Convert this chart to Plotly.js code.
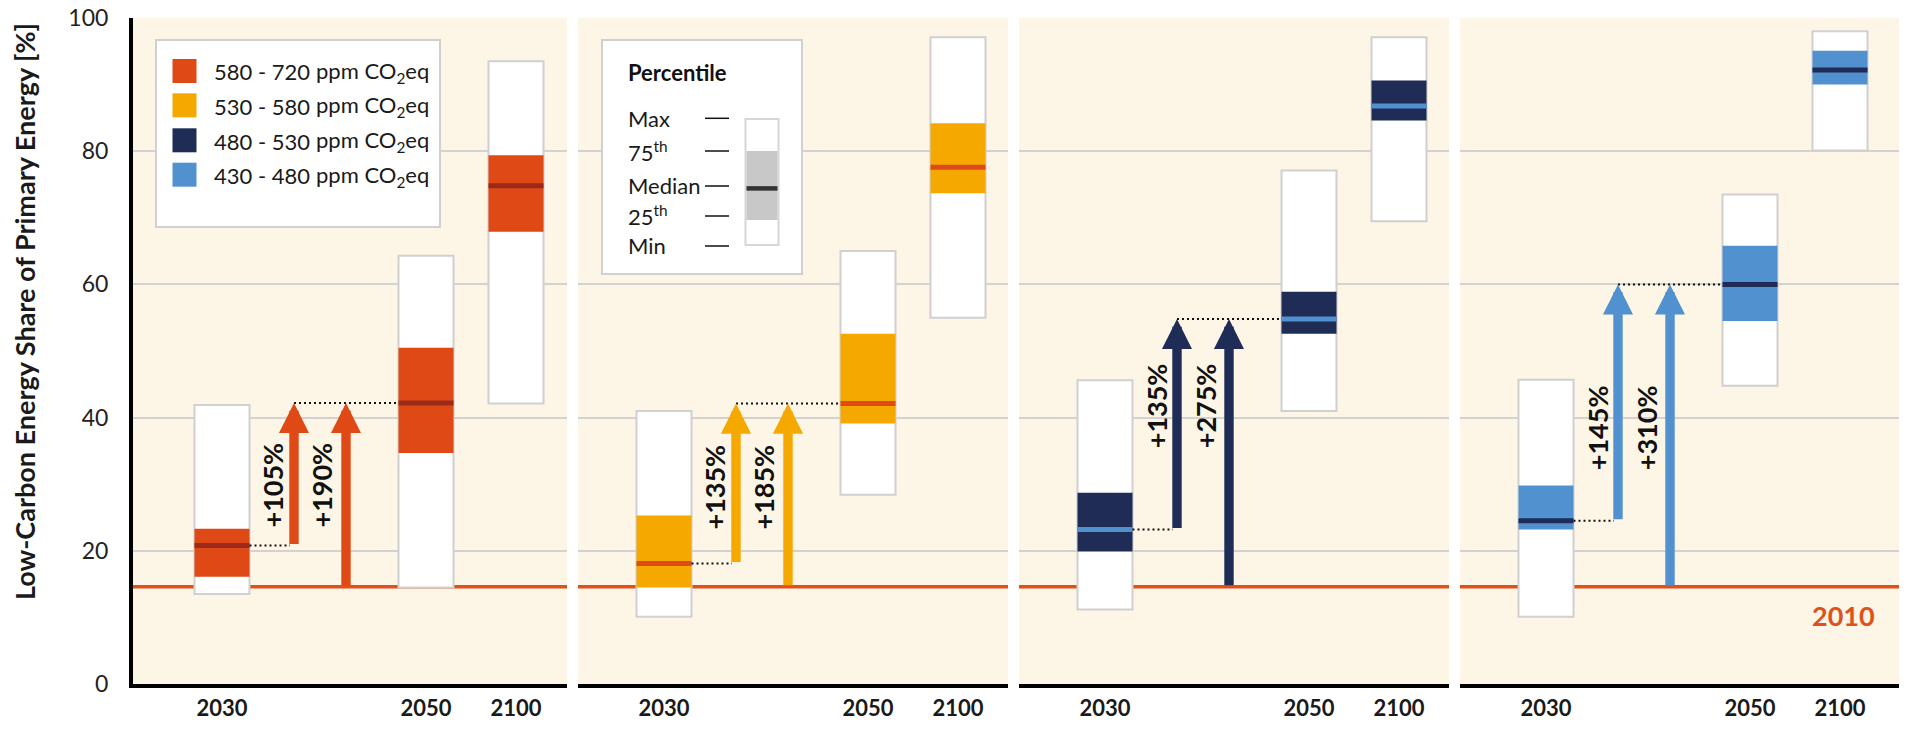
<!DOCTYPE html>
<html><head><meta charset="utf-8">
<script src="https://cdn.plot.ly/plotly-3.0.1.min.js"></script>
<style>html,body{margin:0;padding:0;background:#fff;}#chart{width:1915px;height:733px;}</style>
</head><body><div id="chart"></div>
<script>
// ---------------- data ----------------
const years = ['2030', '2050', '2100'];
const concentrationBands = ['580 - 720', '530 - 580', '480 - 530', '430 - 480'];
const share2010 = 14.6;
const minVals    = [[13.5, 14.5, 42.1], [10.1, 28.4, 55.0], [11.2, 41.0, 69.5], [10.1, 44.8, 80.1]];
const p25Vals    = [[16.1, 34.7, 67.9], [14.5, 39.1, 73.7], [19.9, 52.6, 84.6], [23.2, 54.5, 90.0]];
const medianVals = [[20.8, 42.2, 74.8], [18.1, 42.1, 77.6], [23.2, 54.8, 86.8], [24.5, 60.0, 92.2]];
const p75Vals    = [[23.3, 50.5, 79.4], [25.3, 52.6, 84.2], [28.7, 58.9, 90.6], [29.8, 65.8, 95.1]];
const maxVals    = [[41.9, 64.3, 93.5], [41.0, 65.0, 97.1], [45.6, 77.1, 97.1], [45.7, 73.5, 98.0]];
const increaseFrom2030 = ['+105%', '+135%', '+135%', '+145%'];
const increaseFrom2010 = ['+190%', '+185%', '+275%', '+310%'];
const percentileLabels = ['Max', '75<sup>th</sup>', 'Median', '25<sup>th</sup>', 'Min'];

// ---------------- layout constants ----------------
const W = 1915, H = 733, ML = 133, MR = 16, MT = 18, MB = 49;
const PW = W - ML - MR, PH = H - MT - MB;
const panelPx = [[133, 567], [578, 1008], [1019, 1449], [1460, 1899]];
const panelOrigin = [136, 578, 1019, 1460];
const slotX = [86, 290, 380];
const arrowX = [158, 210];
const halfW = 27.5;
const labelY = [29.8, 29.5, 41.7, 38.4];
const fillColors = ['#de4915', '#f5a800', '#1f2d56', '#5191d0'];
const medianColors = ['#9c2a1b', '#e04a18', '#5191d0', '#1f2d56'];
const lineColor2010 = '#e0501a';
const FONT = 'Lato, "Open Sans", sans-serif';
const px2x = p => (p - ML) / PW;
const py2y = p => (H - MB - p) / PH;

const traces = [];
const annotations = [];
const shapes = [];
const layout = {
  width: W, height: H,
  margin: {l: ML, r: MR, t: MT, b: MB, pad: 0},
  paper_bgcolor: '#ffffff',
  plot_bgcolor: '#fdf5e6',
  barmode: 'overlay',
  showlegend: false,
  font: {family: FONT, color: '#1a1a1a'},
  yaxis: {
    range: [0, 100], tickvals: [0, 20, 40, 60, 80, 100],
    showgrid: true, gridcolor: '#d2d2d2', gridwidth: 2,
    zeroline: false, showline: true, linecolor: '#000', linewidth: 4,
    ticks: '', ticklabelstandoff: 16,
    tickfont: {family: FONT, size: 23, color: '#222'}, fixedrange: true
  }
};

for (let i = 0; i < 4; i++) {
  const xa = i === 0 ? 'x' : 'x' + (i + 1);
  const axKey = i === 0 ? 'xaxis' : 'xaxis' + (i + 1);
  layout[axKey] = {
    domain: [px2x(panelPx[i][0]), px2x(panelPx[i][1])],
    range: [panelPx[i][0] - panelOrigin[i], panelPx[i][1] - panelOrigin[i]],
    anchor: 'y', showgrid: false, zeroline: false,
    showline: true, linecolor: '#000', linewidth: 4,
    tickvals: slotX, ticktext: years, ticks: '', ticklabelstandoff: 2,
    tickfont: {family: FONT, size: 22, color: '#1a1a1a', weight: 700}, fixedrange: true
  };

  // min-max white boxes
  traces.push({
    type: 'bar', xaxis: xa, yaxis: 'y', x: slotX, width: 2 * halfW,
    base: minVals[i], y: maxVals[i].map((v, k) => v - minVals[i][k]),
    marker: {color: '#ffffff', line: {color: '#d0d0d0', width: 2}},
    hoverinfo: 'skip', name: concentrationBands[i] + ' range'
  });
  // interquartile boxes
  traces.push({
    type: 'bar', xaxis: xa, yaxis: 'y', x: slotX, width: 2 * halfW,
    base: p25Vals[i], y: p75Vals[i].map((v, k) => v - p25Vals[i][k]),
    marker: {color: fillColors[i], line: {width: 0}},
    hoverinfo: 'skip', name: concentrationBands[i] + ' IQR'
  });
  // medians
  const mx = [], my = [];
  slotX.forEach((s, k) => { mx.push(s - halfW, s + halfW, null); my.push(medianVals[i][k], medianVals[i][k], null); });
  traces.push({
    type: 'scatter', mode: 'lines', xaxis: xa, yaxis: 'y', x: mx, y: my,
    line: {color: medianColors[i], width: 5}, hoverinfo: 'skip'
  });
  // dotted connectors
  traces.push({
    type: 'scatter', mode: 'lines', xaxis: xa, yaxis: 'y',
    x: [slotX[0] + halfW, arrowX[0] - 4, null, arrowX[0], slotX[1] - halfW],
    y: [medianVals[i][0], medianVals[i][0], null, medianVals[i][1], medianVals[i][1]],
    line: {color: '#111', width: 2, dash: '2px,3px'}, hoverinfo: 'skip'
  });

  // 2010 level line (below the boxes)
  shapes.push({
    type: 'line', xref: xa, yref: 'y',
    x0: panelPx[i][0] - panelOrigin[i], x1: panelPx[i][1] - panelOrigin[i],
    y0: share2010, y1: share2010, layer: 'below',
    line: {color: lineColor2010, width: 3.5}
  });

  // arrows: from the 2030 median and from the 2010 level up to the 2050 median
  const arrowCommon = {xref: xa, yref: 'y', axref: xa, ayref: 'y', text: '', showarrow: true,
    arrowhead: 2, arrowsize: 0.64, arrowwidth: 9.4, arrowcolor: fillColors[i], standoff: 0};
  annotations.push(Object.assign({}, arrowCommon, {x: arrowX[0], y: medianVals[i][1], ax: arrowX[0], ay: medianVals[i][0]}));
  annotations.push(Object.assign({}, arrowCommon, {x: arrowX[1], y: medianVals[i][1], ax: arrowX[1], ay: share2010}));
  // arrow labels
  const lab = {xref: xa, yref: 'y', showarrow: false, textangle: -90, xanchor: 'center', yanchor: 'middle',
    font: {family: FONT, size: 27, color: '#111', weight: 700}};
  annotations.push(Object.assign({}, lab, {x: arrowX[0] - 21, y: labelY[i], text: increaseFrom2030[i]}));
  annotations.push(Object.assign({}, lab, {x: arrowX[1] - 24, y: labelY[i], text: increaseFrom2010[i]}));
}

// 2010 label
annotations.push({xref: 'x4', yref: 'y', x: 383, y: 10.3, text: '2010', showarrow: false,
  xanchor: 'center', yanchor: 'middle', font: {family: FONT, size: 27, color: lineColor2010, weight: 700}});

// y-axis title
annotations.push({xref: 'paper', yref: 'paper', x: px2x(24), y: py2y(312), text: 'Low-Carbon Energy Share of Primary Energy [%]',
  textangle: -90, showarrow: false, xanchor: 'center', yanchor: 'middle',
  font: {family: FONT, size: 27, color: '#1a1a1a', weight: 700}});

// ---- concentration legend (panel 1) ----
shapes.push({type: 'rect', xref: 'paper', yref: 'paper', x0: px2x(156), x1: px2x(440), y0: py2y(227), y1: py2y(40),
  fillcolor: '#ffffff', line: {color: '#d0d0d0', width: 2}, layer: 'above'});
const legRows = [71, 105.3, 140.3, 174.7];
concentrationBands.forEach((b, k) => {
  shapes.push({type: 'rect', xref: 'paper', yref: 'paper', x0: px2x(172.5), x1: px2x(196.5),
    y0: py2y(legRows[k] + 12), y1: py2y(legRows[k] - 12), fillcolor: fillColors[k], line: {width: 0}, layer: 'above'});
  annotations.push({xref: 'paper', yref: 'paper', x: px2x(212), y: py2y(legRows[k] + 1), text: b, showarrow: false,
    xanchor: 'left', yanchor: 'middle', font: {family: FONT, size: 22, color: '#1a1a1a'}});
  annotations.push({xref: 'paper', yref: 'paper', x: px2x(314), y: py2y(legRows[k] + 1), text: 'ppm CO<sub>2</sub>eq', showarrow: false,
    xanchor: 'left', yanchor: 'middle', font: {family: FONT, size: 22, color: '#1a1a1a'}});
});

// ---- percentile legend (panel 2) ----
shapes.push({type: 'rect', xref: 'paper', yref: 'paper', x0: px2x(602), x1: px2x(802), y0: py2y(274), y1: py2y(40),
  fillcolor: '#ffffff', line: {color: '#d0d0d0', width: 2}, layer: 'above'});
annotations.push({xref: 'paper', yref: 'paper', x: px2x(626), y: py2y(73), text: 'Percentile', showarrow: false,
  xanchor: 'left', yanchor: 'middle', font: {family: FONT, size: 22, color: '#111', weight: 700}});
const pctRows = [118.3, 151, 186, 216, 246];
percentileLabels.forEach((t, k) => {
  annotations.push({xref: 'paper', yref: 'paper', x: px2x(626), y: py2y(pctRows[k]), text: t, showarrow: false,
    xanchor: 'left', yanchor: 'middle', font: {family: FONT, size: 22, color: '#1a1a1a'}});
  shapes.push({type: 'line', xref: 'paper', yref: 'paper', x0: px2x(705), x1: px2x(729), y0: py2y(pctRows[k]), y1: py2y(pctRows[k]),
    line: {color: '#111', width: 1.5}, layer: 'above'});
});
shapes.push({type: 'rect', xref: 'paper', yref: 'paper', x0: px2x(745.5), x1: px2x(778.5), y0: py2y(245), y1: py2y(119),
  fillcolor: '#ffffff', line: {color: '#d6d6d6', width: 2}, layer: 'above'});
shapes.push({type: 'rect', xref: 'paper', yref: 'paper', x0: px2x(746.5), x1: px2x(777.5), y0: py2y(220), y1: py2y(151),
  fillcolor: '#c8c8c8', line: {width: 0}, layer: 'above'});
shapes.push({type: 'line', xref: 'paper', yref: 'paper', x0: px2x(746.5), x1: px2x(777.5), y0: py2y(188.4), y1: py2y(188.4),
  line: {color: '#333333', width: 4.5}, layer: 'above'});

layout.annotations = annotations;
layout.shapes = shapes;

Plotly.newPlot('chart', traces, layout, {displayModeBar: false, staticPlot: true});
</script>
</body></html>
